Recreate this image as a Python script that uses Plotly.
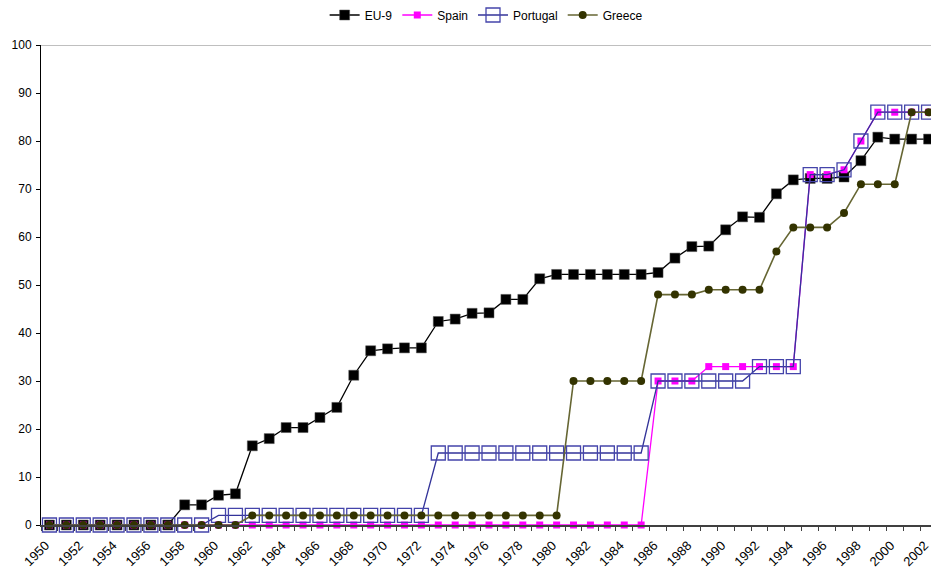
import plotly.graph_objects as go

# ---------------------------------------------------------------------------
# data
# ---------------------------------------------------------------------------

years = list(range(1950, 2003))
tick_years = list(range(1950, 2003, 2))

eu9 = [0, 0, 0, 0, 0, 0, 0, 0, 4.2, 4.2,
       6.2, 6.5, 16.5, 18.0, 20.3, 20.3, 22.4, 24.5, 31.2, 36.3,
       36.7, 36.9, 36.9, 42.4, 42.9, 44.1, 44.2, 47.0, 47.0, 51.3,
       52.2, 52.2, 52.2, 52.2, 52.2, 52.2, 52.6, 55.6, 58.0, 58.1,
       61.5, 64.2, 64.1, 69.0, 71.9, 72.2, 72.2, 72.5, 75.9, 80.8,
       80.4, 80.4, 80.4]

spain = [0] * 36 + [30, 30, 30, 33, 33, 33, 33, 33, 33,
                    73, 73, 74, 80, 86, 86, 86, 86]

portugal = [0] * 10 + [2] * 13 + [15] * 13 + [30] * 6 + [33] * 3 + \
    [73, 73, 74, 80, 86, 86, 86, 86]

greece = [0] * 12 + [2] * 19 + [30] * 5 + [48, 48, 48, 49, 49, 49, 49,
                                           57, 62, 62, 62, 65, 71, 71, 71, 86, 86]

# ---------------------------------------------------------------------------
# figure
# ---------------------------------------------------------------------------

fig = go.Figure()

series = [
    ("EU-9", eu9, dict(color="#000000", width=1.3),
     dict(symbol="square", size=10, color="#000000",
          line=dict(color="#555555", width=0.5))),
    ("Spain", spain, dict(color="#FF00FF", width=1.3),
     dict(symbol="square", size=7, color="#FF00FF", line=dict(width=0))),
    ("Portugal", portugal, dict(color="#333399", width=1.3),
     dict(symbol="square-open", size=14, color="#4444AA", line=dict(width=1.3))),
    ("Greece", greece, dict(color="#666633", width=1.6),
     dict(symbol="circle", size=8, color="#333300", line=dict(width=0))),
]

for name, vals, line, marker in series:
    fig.add_trace(go.Scatter(
        x=years, y=vals, name=name, mode="lines+markers",
        line=line, marker=marker, cliponaxis=False,
    ))

fig.add_shape(type="line", xref="paper", yref="y", x0=0, x1=1, y0=100, y1=100,
              line=dict(color="#808080", width=1))

# the chart in the reference runs a little past the right edge of the picture,
# so the figure is drawn 937 px wide and the page clips it at the window edge
fig.update_layout(
    width=937, height=568,
    margin=dict(l=41, r=0, t=45, b=43),
    plot_bgcolor="white", paper_bgcolor="white",
    font=dict(family="Liberation Sans, Arial, sans-serif", size=12, color="#000000"),
    showlegend=True,
    legend=dict(orientation="h", x=0.4968, xanchor="center", y=1.0625,
                yanchor="middle", font=dict(size=12),
                tracegroupgap=0, itemsizing="trace"),
    xaxis=dict(
        range=[1949.5, 2002.5], tickmode="array", tickvals=tick_years,
        tickangle=-45, ticks="", showgrid=False, zeroline=False, automargin=False,
        showline=True, linecolor="#404040", linewidth=1.5,
        tickfont=dict(size=13), ticklabelstandoff=6, ticklabelshift=-4,
        minor=dict(ticks="outside", tick0=1949.5, dtick=1, ticklen=4,
                   tickcolor="#404040", showgrid=False),
    ),
    yaxis=dict(
        range=[0, 100], tickmode="linear", tick0=0, dtick=10, automargin=False,
        ticks="outside", ticklen=4, tickcolor="#000000",
        showgrid=False, zeroline=False,
        showline=True, linecolor="#000000", linewidth=1,
        tickfont=dict(size=12), ticklabelstandoff=2,
    ),
)

# drop the default body margin and hide the overflow past the window
fig.write_html("out.html", config={"displayModeBar": False},
               post_script="document.body.style.margin='0';"
                           "document.body.style.overflow='hidden';")
